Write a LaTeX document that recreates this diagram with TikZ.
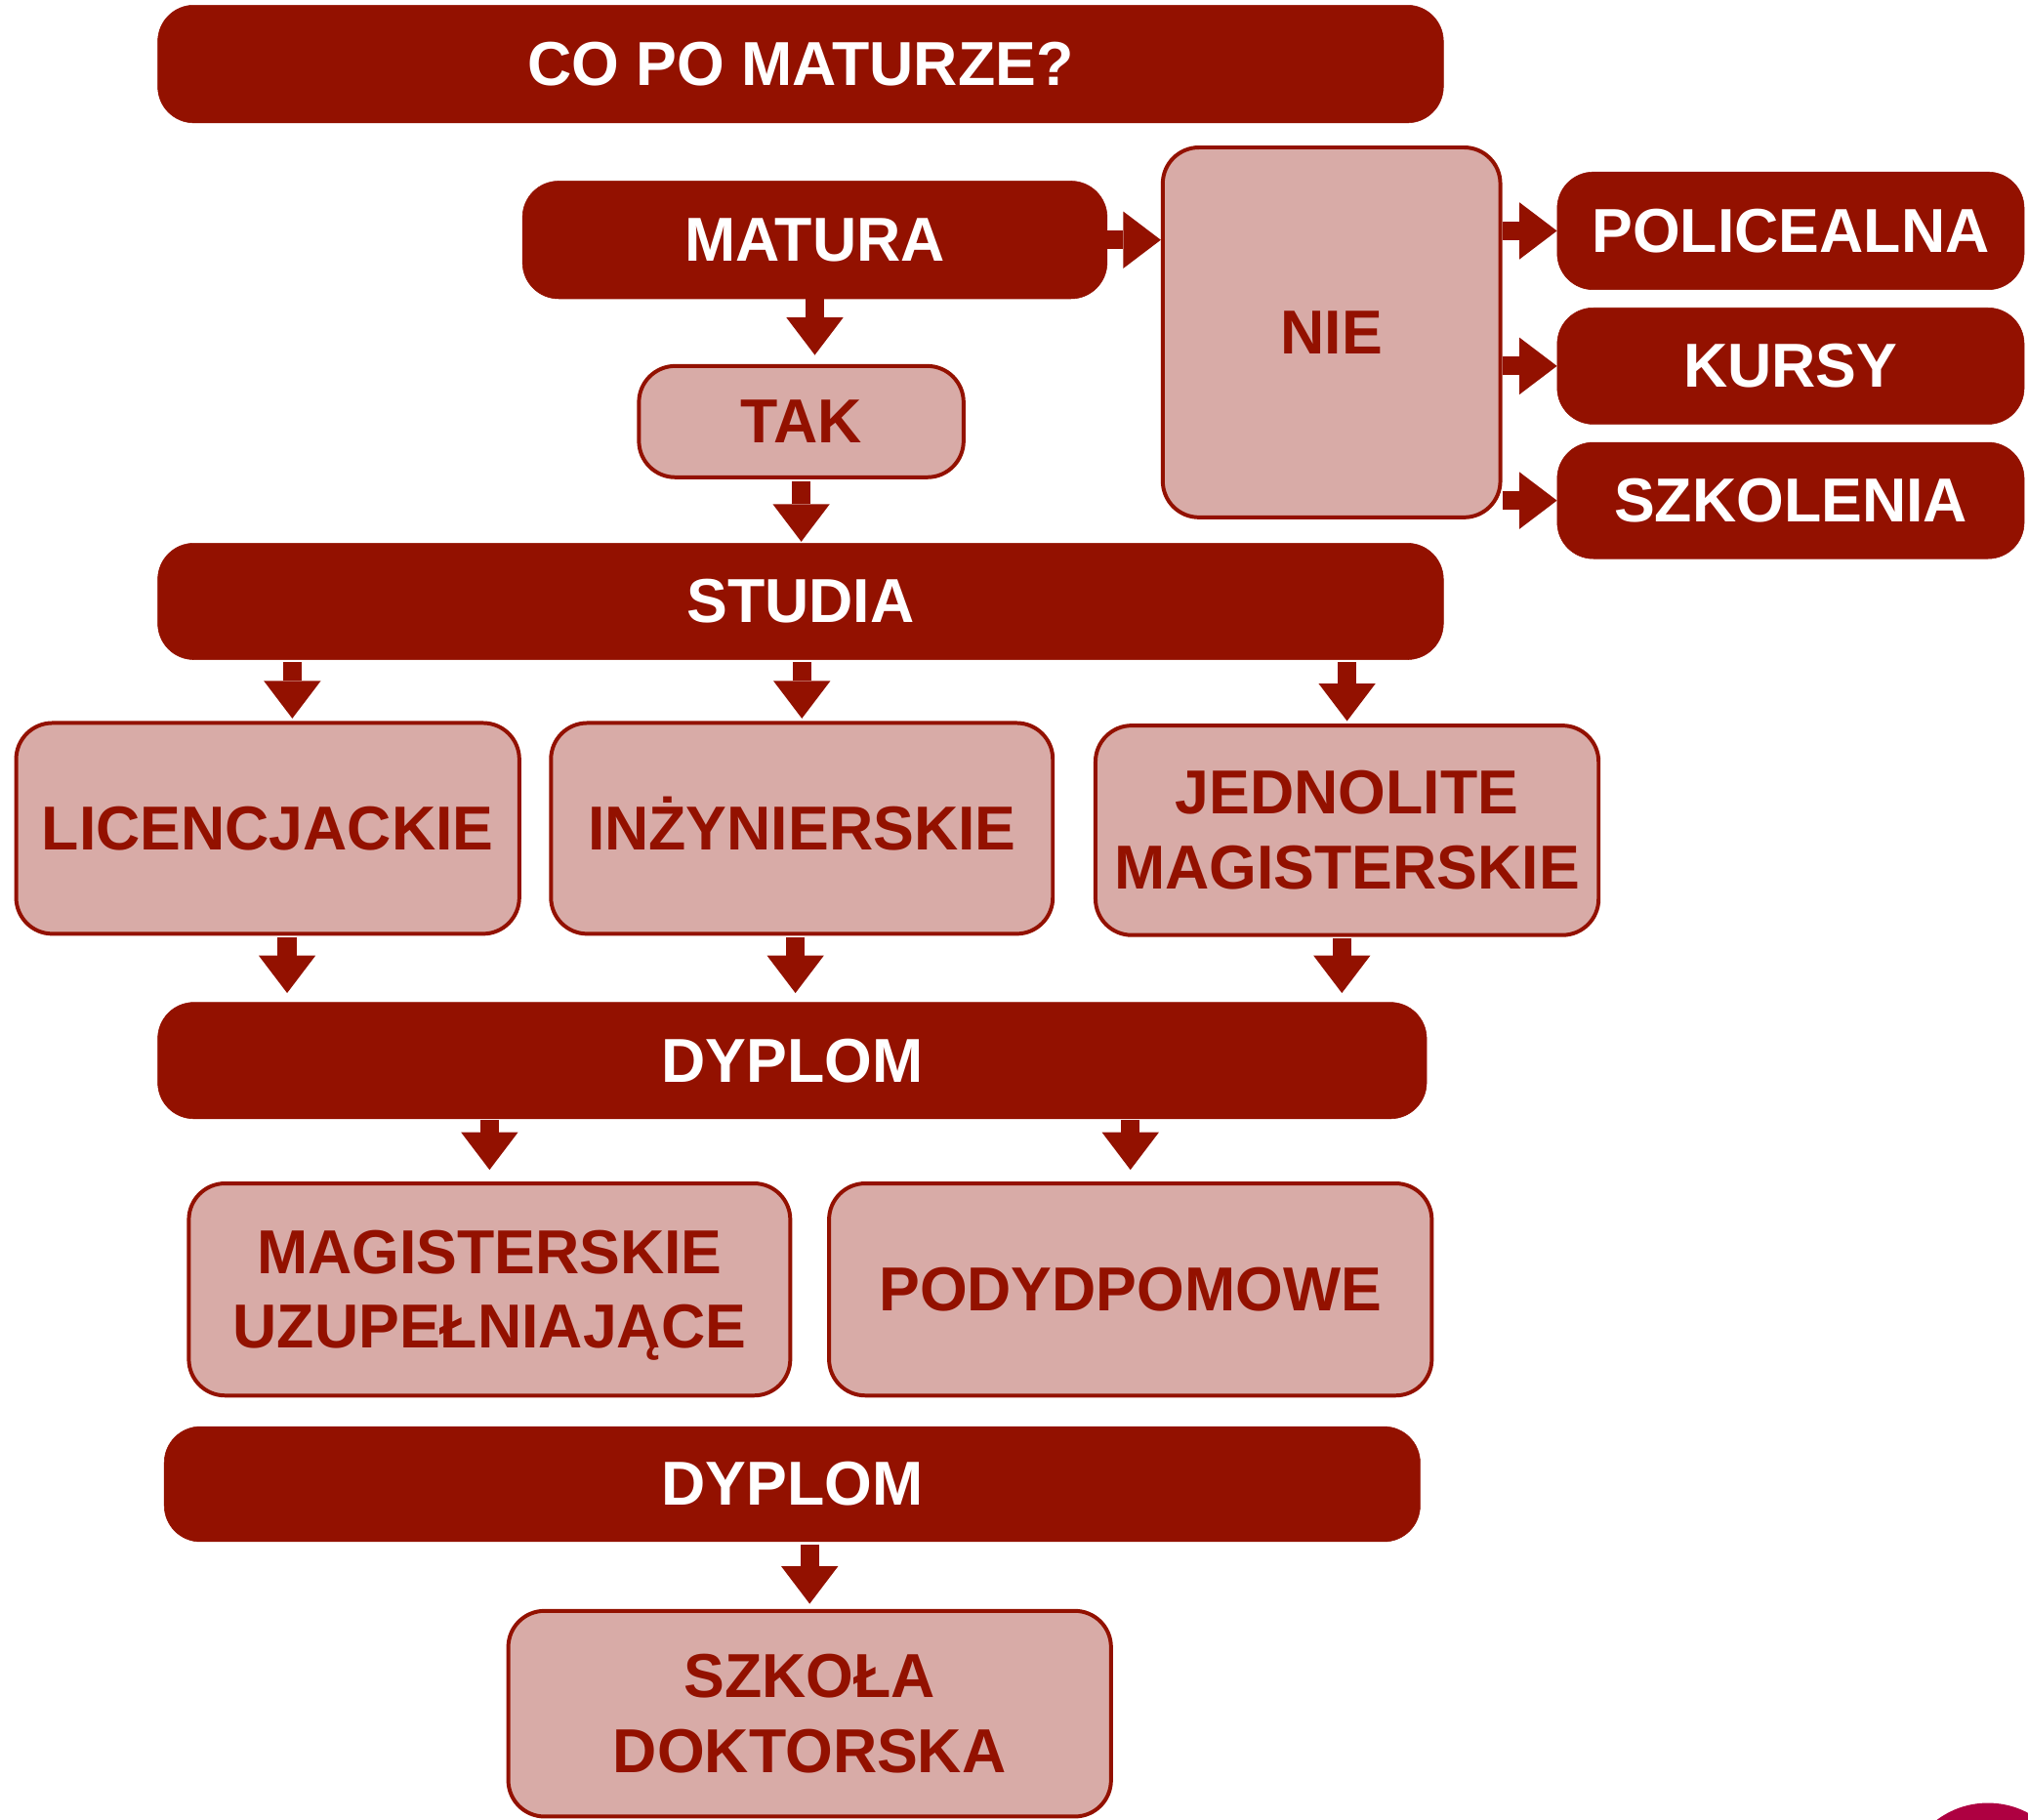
\documentclass[tikz,border=0pt]{standalone}
\usepackage{fontspec}
\usepackage{xcolor}
\usetikzlibrary{arrows.meta}

\newfontfamily\chartfont{Liberation Sans}[FakeStretch=0.985]
\definecolor{maturared}{RGB}{147,17,0}
\definecolor{maturapink}{RGB}{216,171,167}
\definecolor{logomagenta}{RGB}{174,0,65}

\tikzset{
  darkbox/.style={rounded corners=28pt, fill=maturared, draw=maturared, text=white, align=center, inner sep=0pt,
    font=\chartfont\bfseries\fontsize{48}{58}\selectfont},
  lightbox/.style={rounded corners=28pt, fill=maturapink, draw=maturared, line width=3pt, text=maturared, align=center, inner sep=0pt,
    font=\chartfont\bfseries\fontsize{48}{58}\selectfont},
  blockarrow/.style={draw=maturared, line width=14.5pt, -{Triangle[length=29pt,width=44pt,line width=0pt]}},
}

\begin{document}
\begin{tikzpicture}[x=1pt,y=1pt,yscale=-1,xscale=1]
\useasboundingbox (0,0) rectangle (1568,1407);

%Shape: Rounded Rect [id:title]
\node[darkbox, minimum width=994, minimum height=91] (title) at (619,49.5) {CO PO MATURZE?};
%Shape: Rounded Rect [id:matura]
\node[darkbox, minimum width=452, minimum height=91] (matura) at (630,185.5) {MATURA};
%Shape: Rounded Rect [id:nie]
\node[lightbox, minimum width=261, minimum height=286] (nie) at (1029.5,257) {NIE};
%Shape: Rounded Rect [id:policealna]
\node[darkbox, minimum width=361, minimum height=91] (policealna) at (1384.5,178.5) {POLICEALNA};
%Shape: Rounded Rect [id:kursy]
\node[darkbox, minimum width=361, minimum height=90] (kursy) at (1384.5,283) {KURSY};
%Shape: Rounded Rect [id:szkolenia]
\node[darkbox, minimum width=361, minimum height=90] (szkolenia) at (1384.5,387) {SZKOLENIA};
%Shape: Rounded Rect [id:tak]
\node[lightbox, minimum width=251, minimum height=86] (tak) at (619.5,326) {TAK};
%Shape: Rounded Rect [id:studia]
\node[darkbox, minimum width=994, minimum height=90] (studia) at (619,465) {STUDIA};
%Shape: Rounded Rect [id:licencjackie]
\node[lightbox, minimum width=389, minimum height=163] (licencjackie) at (207,640.5) {LICENCJACKIE};
%Shape: Rounded Rect [id:inzynierskie]
\node[lightbox, minimum width=388, minimum height=163] (inzynierskie) at (620,640.5) {IN\smash{Ż}YNIERSKIE};
%Shape: Rounded Rect [id:jednolite]
\node[lightbox, minimum width=389, minimum height=162] (jednolite) at (1041.5,642) {JEDNOLITE\\MAGISTERSKIE};
%Shape: Rounded Rect [id:dyplomA]
\node[darkbox, minimum width=981, minimum height=90] (dyplomA) at (612.5,820) {DYPLOM};
%Shape: Rounded Rect [id:uzupelniajace]
\node[lightbox, minimum width=465, minimum height=164] (uzupelniajace) at (378.5,997) {MAGISTERSKIE\\UZUPEŁNIAJ\smash{Ą}CE};
%Shape: Rounded Rect [id:podyplomowe]
\node[lightbox, minimum width=466, minimum height=164] (podyplomowe) at (874,997) {PODYDPOMOWE};
%Shape: Rounded Rect [id:dyplomB]
\node[darkbox, minimum width=971, minimum height=89] (dyplomB) at (612.5,1147.5) {DYPLOM};
%Shape: Rounded Rect [id:doktorska]
\node[lightbox, minimum width=466, minimum height=159] (doktorska) at (626,1325) {SZKOŁA\\DOKTORSKA};

%Straight Lines [id:matura-tak]
\draw[blockarrow, shorten >=7pt] (matura.south) -- (matura.south |- tak.north);
%Straight Lines [id:tak-studia]
\draw[blockarrow, shorten <=2pt, shorten >=1pt] (tak.south) -- (tak.south |- studia.north);
%Straight Lines [id:matura-nie]
\draw[blockarrow] (matura.east) -- (nie.west |- matura.east);
%Straight Lines [id:nie-policealna]
\draw[blockarrow] (nie.east |- policealna.west) -- (policealna.west);
%Straight Lines [id:nie-kursy]
\draw[blockarrow] (nie.east |- kursy.west) -- (kursy.west);
%Straight Lines [id:nie-szkolenia]
\draw[blockarrow] (nie.east |- szkolenia.west) -- (szkolenia.west);
%Straight Lines [id:studia-licencjackie]
\draw[blockarrow, shorten <=2pt, shorten >=2pt] ([xshift=19pt]licencjackie.north |- studia.south) -- ([xshift=19pt]licencjackie.north);
%Straight Lines [id:studia-inzynierskie]
\draw[blockarrow, shorten <=2pt, shorten >=2pt] (inzynierskie.north |- studia.south) -- (inzynierskie.north);
%Straight Lines [id:studia-jednolite]
\draw[blockarrow, shorten <=2pt, shorten >=2pt] (jednolite.north |- studia.south) -- (jednolite.north);
%Straight Lines [id:licencjackie-dyplom]
\draw[blockarrow, shorten <=1pt, shorten >=7pt] ([xshift=15pt]licencjackie.south) -- ([xshift=15pt]licencjackie.south |- dyplomA.north);
%Straight Lines [id:inzynierskie-dyplom]
\draw[blockarrow, shorten <=1pt, shorten >=7pt] ([xshift=-5pt]inzynierskie.south) -- ([xshift=-5pt]inzynierskie.south |- dyplomA.north);
%Straight Lines [id:jednolite-dyplom]
\draw[blockarrow, shorten <=1pt, shorten >=7pt] ([xshift=-4pt]jednolite.south) -- ([xshift=-4pt]jednolite.south |- dyplomA.north);
%Straight Lines [id:dyplom-uzupelniajace]
\draw[blockarrow, shorten <=1pt, shorten >=9pt] (uzupelniajace.north |- dyplomA.south) -- (uzupelniajace.north);
%Straight Lines [id:dyplom-podyplomowe]
\draw[blockarrow, shorten <=1pt, shorten >=9pt] (podyplomowe.north |- dyplomA.south) -- (podyplomowe.north);
%Straight Lines [id:dyplom-doktorska]
\draw[blockarrow, shorten <=2pt, shorten >=4pt] (doktorska.north |- dyplomB.south) -- (doktorska.north);

%Shape: Circle [id:logo]
\begin{scope}
\clip (0,0) rectangle (1568,1407);
\fill[logomagenta] (1537,1460) circle (66);
\end{scope}

\end{tikzpicture}
\end{document}
